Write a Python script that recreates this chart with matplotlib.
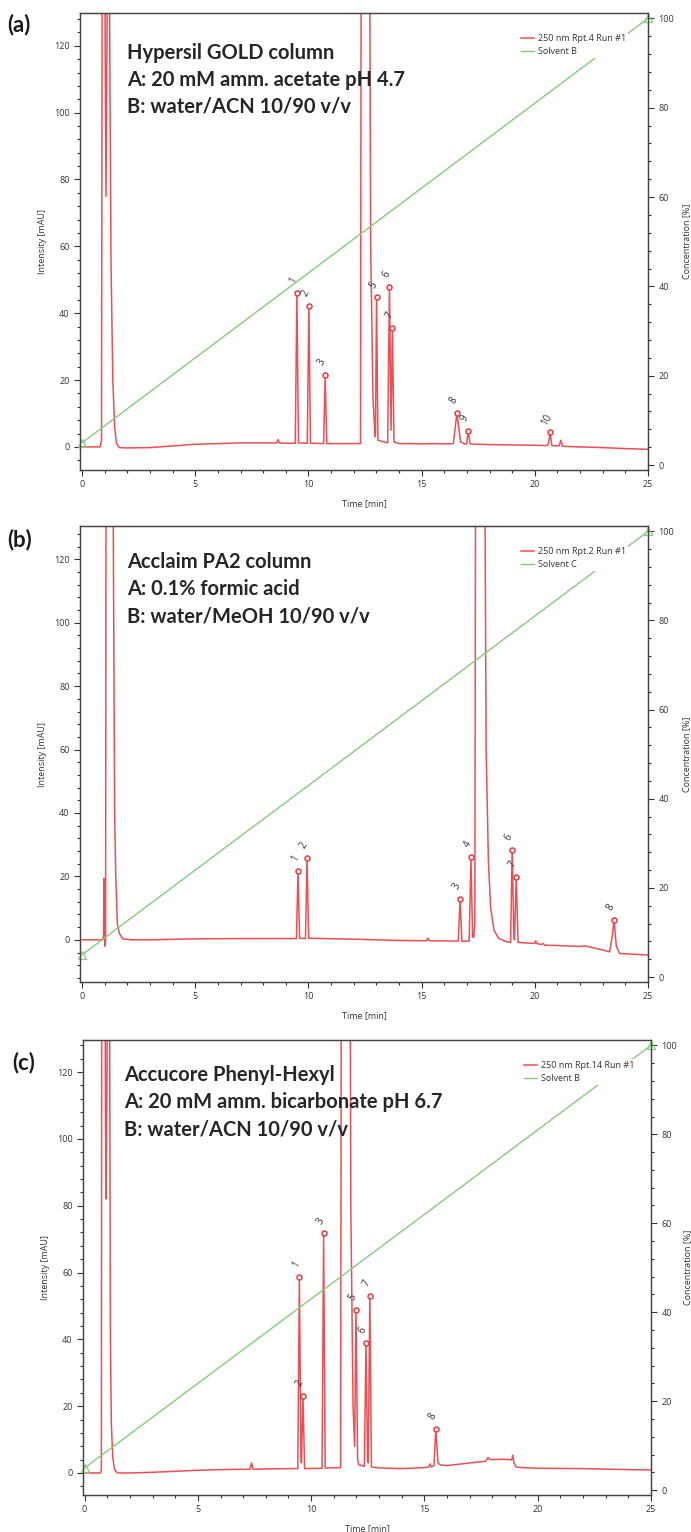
import matplotlib
matplotlib.use('Agg')
import matplotlib.pyplot as plt
from matplotlib.ticker import MultipleLocator
from matplotlib.lines import Line2D

# ---- panel (a): Hypersil GOLD ----
a_time = [0, 0.8, 0.86, 0.9, 0.97, 1.02, 1.06, 1.1, 1.15, 1.2, 1.28, 1.36, 1.44, 1.52, 1.65,
          2.0, 3.0, 4.0, 5.0, 6.0, 7.0, 8.0, 8.6, 8.66, 8.72, 9.0, 9.42, 9.49, 9.56, 9.95, 10.02,
          10.09, 10.67, 10.74, 10.81, 11.5, 12.3, 12.36, 12.6, 12.68, 12.75, 12.85, 12.93, 12.96,
          13.01, 13.07, 13.5, 13.58, 13.65, 13.71, 13.78, 14.0, 14.5, 15.0, 15.5, 16.0, 16.4,
          16.56, 16.72, 16.9, 16.99, 17.06, 17.14, 17.5, 18.0, 19.0, 20.0, 20.5, 20.6, 20.68,
          20.75, 21.07, 21.15, 21.22, 22.0, 23.0, 24.0, 25.0]
a_signal = [0, 0, 2, 200, 250, 120, 75, 120, 250, 150, 55, 20, 6, 1, -0.2,
            -0.3, -0.2, 0.3, 0.8, 1.0, 1.2, 1.2, 1.2, 2.2, 1.2, 1.1, 1.1, 46.0, 1.2, 1.1, 42.1,
            1.1, 1.0, 21.5, 1.0, 1.0, 1.0, 300, 400, 200, 60, 15, 5, 3,
            44.7, 2.0, 1.2, 47.8, 5.0, 35.7, 1.5, 1.0, 1.0, 0.9, 1.0, 0.9, 1.0,
            10.1, 1.5, 0.9, 0.9, 4.8, 0.9, 0.8, 0.7, 0.6, 0.5, 0.4, 0.8, 4.4,
            0.4, 0.3, 2.0, 0.2, 0.0, -0.2, -0.5, -0.7]
a_peak_t = [9.49, 10.02, 10.74, 13.01, 13.58, 13.71, 16.56, 17.06, 20.68]
a_peak_h = [46.0, 42.1, 21.5, 44.7, 47.8, 35.7, 10.1, 4.8, 4.4]
a_peak_lbl = ['1', '2', '3', '5', '6', '7', '8', '9', '10']
a_grad_t = [0, 25]
a_grad_pct = [5, 100]
a_title = ['Hypersil GOLD column', 'A: 20 mM amm. acetate pH 4.7', 'B: water/ACN 10/90 v/v']
a_legend = ['250 nm Rpt.4 Run #1', 'Solvent B']

# ---- panel (b): Acclaim PA2 ----
b_time = [0, 0.9, 0.95, 0.97, 0.99, 1.01, 1.04, 1.08, 1.3, 1.38, 1.44, 1.49, 1.56, 1.65, 1.8,
          2.2, 3.0, 5.0, 7.0, 9.0, 9.47, 9.54, 9.61, 9.87, 9.94, 10.01, 12.0, 14.0, 15.2, 15.27,
          15.35, 16.62, 16.7, 16.78, 17.1, 17.18, 17.25, 17.3, 17.35, 17.42, 17.65, 17.76, 17.85,
          17.95, 18.05, 18.2, 18.4, 18.7, 18.93, 19.0, 19.07, 19.1, 19.18, 19.26, 19.6, 20.0,
          20.04, 20.1, 20.3, 20.35, 20.45, 21.0, 22.0, 22.2, 23.0, 23.3, 23.42, 23.5, 23.6,
          23.75, 24.0, 25.0]
b_signal = [0, 0, 1, 19.4, 1, -2, 0, 300, 400, 130, 40, 20, 5, 2, 0.3,
            0, 0, 0.3, 0.4, 0.4, 0.4, 21.8, 0.5, 0.4, 25.9, 0.5, 0.2, -0.2, -0.3, 0.5,
            -0.3, -0.4, 12.9, -0.5, -0.4, 26.2, 1.0, 0.7, 5, 300, 400, 200, 60,
            25, 10, 3, 0.5, -0.5, -0.8, 28.4, 3.0, 0.0, 19.8, -0.8, -1.0, -1.1,
            -0.3, -1.2, -1.5, -1.1, -1.7, -1.8, -2.1, -1.9, -3.2, -3.8, 1.0, 6.4, -2.0,
            -4.3, -4.4, -4.8]
b_peak_t = [9.54, 9.94, 16.7, 17.18, 19.0, 19.18, 23.5]
b_peak_h = [21.8, 25.9, 12.9, 26.2, 28.4, 19.8, 6.4]
b_peak_lbl = ['1', '2', '3', '4', '6', '7', '8']
b_grad_t = [0, 25]
b_grad_pct = [5, 100]
b_title = ['Acclaim PA2 column', 'A: 0.1% formic acid', 'B: water/MeOH 10/90 v/v']
b_legend = ['250 nm Rpt.2 Run #1', 'Solvent C']

# ---- panel (c): Accucore Phenyl-Hexyl ----
c_time = [0, 0.7, 0.74, 0.77, 0.85, 0.92, 0.95, 0.99, 1.05, 1.1, 1.14, 1.18, 1.24, 1.32, 1.45,
          2.0, 3.0, 4.0, 5.0, 6.0, 7.0, 7.3, 7.37, 7.44, 8.0, 9.0, 9.41, 9.48, 9.55, 9.57, 9.64,
          9.71, 10.48, 10.55, 10.62, 11.3, 11.36, 11.55, 11.66, 11.75, 11.85, 11.92, 11.98, 12.05,
          12.1, 12.35, 12.42, 12.49, 12.52, 12.59, 12.66, 13.0, 14.0, 15.0, 15.2, 15.25, 15.3,
          15.42, 15.5, 15.6, 15.7, 16.0, 17.0, 17.7, 17.8, 17.9, 18.5, 18.85, 18.9, 18.95,
          19.05, 19.3, 20.0, 22.0, 24.0, 25.0]
c_signal = [0, 0, 1, 250, 300, 110, 82, 120, 300, 150, 40, 15, 5, 1, 0,
            0, 0.2, 0.5, 0.8, 1.0, 1.1, 1.1, 3.0, 1.1, 1.2, 1.3, 1.3, 58.6, 5.0, 3.0, 23.0,
            1.3, 1.4, 71.7, 1.5, 1.6, 300, 400, 300, 80, 20, 8, 48.9, 4.0,
            2.5, 2.0, 39.0, 4.0, 3.0, 53.0, 1.8, 1.5, 1.3, 1.6, 1.8, 2.7, 1.8,
            2.2, 13.1, 3.0, 2.4, 2.2, 3.0, 3.5, 4.6, 4.0, 4.1, 3.9, 5.3, 3.0,
            1.8, 1.6, 1.4, 1.3, 1.0, 0.9]
c_peak_t = [9.48, 9.64, 10.55, 11.98, 12.42, 12.59, 15.5]
c_peak_h = [58.6, 23.0, 71.7, 48.9, 39.0, 53.0, 13.1]
c_peak_lbl = ['1', '2', '3', '5', '6', '7', '8']
c_grad_t = [0, 25]
c_grad_pct = [5, 100]
c_title = ['Accucore Phenyl-Hexyl', 'A: 20 mM amm. bicarbonate pH 6.7', 'B: water/ACN 10/90 v/v']
c_legend = ['250 nm Rpt.14 Run #1', 'Solvent B']

red = '#ee3a3f'
green = '#84cc7c'
dark = '#333333'
plt.rcParams['font.family'] = ['Open Sans', 'DejaVu Sans']

W, H = 691, 1532
fig = plt.figure(figsize=(W / 100, H / 100), dpi=100)


def panel(box, xl, yl, t, sig, pk_t, pk_h, pk_lbl, gt, gp, title, legend, tag, tagpos, title_x, title_y, rlab):
    l, top, r, bot = box
    ax = fig.add_axes([l / W, 1 - bot / H, (r - l) / W, (bot - top) / H])
    ax2 = ax.twinx()
    ax.set_xlim(xl, 25)
    ax.set_ylim(*yl)
    ax2.set_ylim(-1.1, 101.2)

    ax.plot(t, sig, color=red, lw=1.1, alpha=0.9, zorder=2)
    ax.plot(pk_t, pk_h, 'o', ms=3.6, mfc='white', mec=red, mew=1.1, zorder=3)
    for x, y, s in zip(pk_t, pk_h, pk_lbl):
        ax.annotate(s, (x, y), xytext=(-2.2, 9), textcoords='offset points', rotation=60,
                    ha='center', va='center', fontsize=7, color=dark, zorder=4)
    ax2.plot(gt, gp, color=green, lw=1.0, marker='^', ms=6, mfc='none', mec=green,
             mew=0.9, clip_on=False)

    for a in (ax, ax2):
        a.xaxis.set_major_locator(MultipleLocator(5))
        a.xaxis.set_minor_locator(MultipleLocator(1))
        a.yaxis.set_major_locator(MultipleLocator(20))
        a.yaxis.set_minor_locator(MultipleLocator(4))
        a.tick_params(which='both', direction='out', colors=dark, labelsize=6.5, width=0.8)
        a.tick_params(which='major', length=4)
        a.tick_params(which='minor', length=2.5)
        for sp in a.spines.values():
            sp.set_color('#444444')
            sp.set_linewidth(0.9)
    ax.set_xlabel('Time [min]', fontsize=6.5, color=dark)
    ax.set_ylabel('Intensity [mAU]', fontsize=6.5, color=dark)
    ax2.set_ylabel('Concentration [%]', fontsize=6.5, color=dark)
    ax.xaxis.set_label_coords(0.5, -0.064)
    ax.yaxis.set_label_coords(-33 / (r - l), 0.5)
    ax2.yaxis.set_label_coords(1 + rlab / (r - l), 0.5)

    handles = [Line2D([], [], color=red, lw=1.1, alpha=0.9), Line2D([], [], color=green, lw=1.0)]
    leg = ax2.legend(handles, legend, loc='upper left', bbox_to_anchor=(0.765, 0.968),
                     fontsize=6.5, frameon=True, framealpha=1, edgecolor='none',
                     handlelength=1.5, handletextpad=0.4, borderpad=0.2, labelspacing=0.5)
    for txt in leg.get_texts():
        txt.set_color(dark)

    for i, line in enumerate(title):
        ax2.text(title_x, title_y - i * 27 / (bot - top), line, transform=ax2.transAxes,
                 fontsize=14.5, fontweight='bold', family='Lato', color='#262626',
                 va='center', ha='left', zorder=10)
    fig.text(tagpos[0] / W, 1 - tagpos[1] / H, tag, fontsize=16, fontweight='bold',
             family='Lato', color='#1a1a1a', va='center', ha='left')


panel((80, 13, 648, 470), -0.09, (-6.9, 129.8), a_time, a_signal, a_peak_t, a_peak_h,
      a_peak_lbl, a_grad_t, a_grad_pct, a_title, a_legend, '(a)', (7, 25), 0.083, 1 - 40 / 457, 34)
panel((80, 526, 648, 982), -0.09, (-13.3, 130.5), b_time, b_signal, b_peak_t, b_peak_h,
      b_peak_lbl, b_grad_t, b_grad_pct, b_title, b_legend, '(b)', (7, 540), 0.083, 1 - 36 / 456, 34)
panel((83, 1040, 651, 1495), -0.07, (-6.6, 129.6), c_time, c_signal, c_peak_t, c_peak_h,
      c_peak_lbl, c_grad_t, c_grad_pct, c_title, c_legend, '(c)', (12, 1063), 0.072, 1 - 35 / 455, 32)

fig.savefig('out.png', dpi=100)
